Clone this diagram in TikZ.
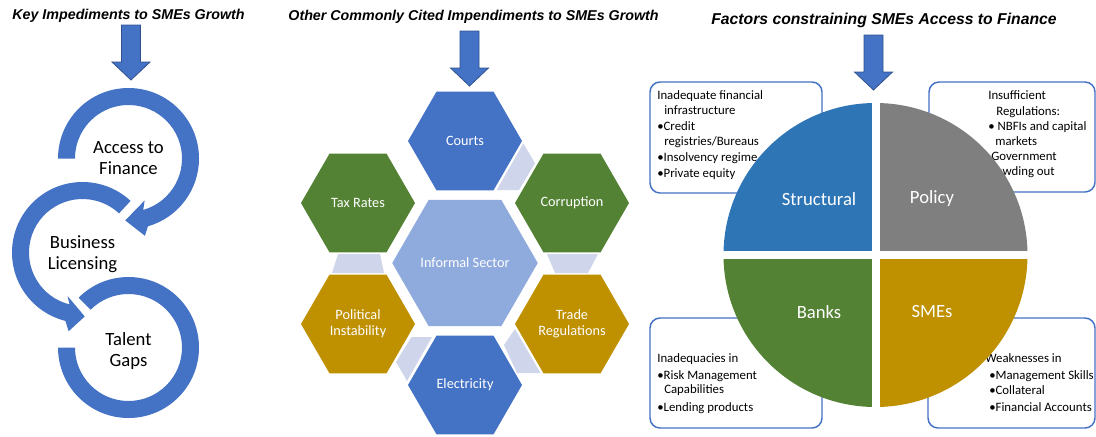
\documentclass[tikz,border=0pt]{standalone}
\usepackage{fontspec}
\setmainfont{Carlito}
\newfontfamily\titlefont{Liberation Sans}
\usetikzlibrary{shapes.geometric,calc}
\definecolor{oblue}{HTML}{4472C4}
\definecolor{oblueD}{HTML}{2F528F}
\definecolor{ogreen}{HTML}{548235}
\definecolor{ogold}{HTML}{BF9000}
\definecolor{olight}{HTML}{8FAADC}
\definecolor{oconn}{HTML}{CFD5EA}
\definecolor{sblue}{HTML}{2E75B6}
\definecolor{ogray}{HTML}{7F7F7F}
\tikzset{
  titletxt/.style={font=\titlefont\bfseries\itshape\fontsize{10.7}{12}\selectfont, inner sep=0},
  blockarrow/.style={fill=oblue, draw=oblueD, line width=0.6pt, line join=miter},
  ringtxt/.style={font=\fontsize{14}{15.5}\selectfont, align=center, inner sep=0},
  hexbox/.style={regular polygon, regular polygon sides=6, minimum size=85.5pt, inner sep=0,
     text=white, align=center, font=\fontsize{10.7}{11.8}\selectfont},
  infobox/.style={draw=oblue, line width=1.1pt, fill=white, rounded corners=7.5pt},
  boxtxt/.style={anchor=base west, inner sep=0, font=\fontsize{9.6}{11.25}\selectfont},
  pietxt/.style={text=white, font=\fontsize{14}{16}\selectfont, inner sep=0},
}
\newcommand\blockdown[1]{%
  \filldraw[blockarrow] (#1) ++(-9.5,0) -- ++(19,0) -- ++(0,37) -- ++(9.5,0)
     -- ++(-19,18) -- ++(-19,-18) -- ++(9.5,0) -- cycle;}
\begin{document}
\begin{tikzpicture}[x=0.75pt,y=-0.75pt]
\useasboundingbox (0,0) rectangle (1096,436);

% ---------------- titles and arrows
\node[titletxt] (t1) at (128.5,16) {Key Impediments to SMEs Growth};
\node[titletxt] (t2) at (473.5,17) {Other Commonly Cited Impendiments to SMEs Growth};
\node[titletxt, font=\titlefont\bfseries\itshape\fontsize{11.8}{13}\selectfont] (t3) at (884,20) {Factors constraining SMEs Access  to Finance};
\coordinate (a1) at (131,25);
\coordinate (a2) at (469.5,31);
\coordinate (a3) at (873.5,35);
\blockdown{a1}
\blockdown{a2}
\blockdown{a3}

% ---------------- left panel: circular arrows
\coordinate (c1) at (128.5,158.5);
\coordinate (c2) at (82.5,252.5);
\coordinate (c3) at (128.5,347.5);
\fill[oblue] ($(c1)+(180:70.5)$) arc[start angle=180, end angle=434, radius=70.5]
   -- ($(c1)+(438:79)$) -- ($(c1)+(453:62)$) -- ($(c1)+(429:45)$)
   -- ($(c1)+(434:53.5)$) arc[start angle=434, end angle=180, radius=53.5] -- cycle;
\fill[oblue] ($(c2)+(-47:70.5)$) arc[start angle=-47, end angle=-256, radius=70.5]
   -- ($(c2)+(-260:80)$) -- ($(c2)+(-272:64)$) -- ($(c2)+(-251:46)$)
   -- ($(c2)+(-256:53.5)$) arc[start angle=-256, end angle=-47, radius=53.5] -- cycle;
\fill[oblue] ($(c3)+(-135:70.5)$) arc[start angle=-135, end angle=180, radius=70.5]
   -- ($(c3)+(180:53.5)$) arc[start angle=180, end angle=-135, radius=53.5] -- cycle;
\node[ringtxt] (access) at (128.5,158) {Access to\\Finance};
\node[ringtxt] (licensing) at (82.5,254) {Business\\Licensing};
\node[ringtxt] (talent) at (128.5,351) {Talent\\Gaps};

% ---------------- middle panel: hexagons
\fill[oconn] (523.3,143.3) -- (535,163.3) -- (519,190) -- (496.7,190) -- cycle;
\fill[oconn] (338,254) -- (380,254) -- (384,273) -- (332,273) -- cycle;
\fill[oconn] (547,254) -- (598,254) -- (588,273) -- (555,273) -- cycle;
\fill[oconn] (411.5,337) -- (432,337) -- (407,381) -- (396,362) -- cycle;
\fill[oconn] (515,329) -- (504,345) -- (517,373) -- (540.5,373) -- cycle;
\node[hexbox, fill=oblue] (courts) at (465,141) {Courts};
\node[hexbox, fill=ogreen] (tax) at (358,203) {Tax Rates};
\node[hexbox, fill=ogreen] (corruption) at (572,203) {Corruption};
\node[hexbox, fill=olight, minimum size=105pt] (informal) at (465,263) {Informal Sector};
\node[hexbox, fill=ogold] (political) at (358,324) {Political\\Instability};
\node[hexbox, fill=ogold] (trade) at (572,324) {Trade\\Regulations};
\node[hexbox, fill=oblue] (electricity) at (465,385) {Electricity};

% ---------------- right panel: boxes
\draw[infobox] (650,82) rectangle (822,193);
\draw[infobox] (929,82) rectangle (1095,192);
\draw[infobox] (650,318) rectangle (822,428);
\draw[infobox] (928,318) rectangle (1095,428);

\node[boxtxt] (tl1) at (657,99) {Inadequate financial};
\node[boxtxt] (tl2) at (664,114) {infrastructure};
\node[boxtxt] (tl3) at (657,130) {•Credit};
\node[boxtxt] (tl4) at (664,145) {registries/Bureaus};
\node[boxtxt] (tl5) at (657,161) {•Insolvency regime};
\node[boxtxt] (tl6) at (657,177) {•Private equity};

\node[boxtxt] (tr1) at (988,99) {Insufficient};
\node[boxtxt] (tr2) at (996,115) {Regulations:};
\node[boxtxt] (tr3) at (988,130) {• NBFIs and capital};
\node[boxtxt] (tr4) at (995,145) {markets};
\node[boxtxt] (tr5) at (991,160) {Government};
\node[boxtxt] (tr6) at (986,175) {crowding out};

\node[boxtxt] (bl1) at (657,362) {Inadequacies in};
\node[boxtxt] (bl2) at (657,379) {•Risk Management};
\node[boxtxt] (bl3) at (664,393) {Capabilities};
\node[boxtxt] (bl4) at (657,411) {•Lending products};

\node[boxtxt] (br1) at (985,362) {Weaknesses in};
\node[boxtxt] (br2) at (989,379) {•Management Skills};
\node[boxtxt] (br3) at (989,394) {•Collateral};
\node[boxtxt] (br4) at (989,411) {•Financial Accounts};

% ---------------- right panel: pie
\coordinate (pc) at (875.5,255);
\begin{scope}
  \clip (pc) circle[radius=152];
  \fill[sblue] (715,95) rectangle (871.5,251);
  \fill[ogray] (879.5,95) rectangle (1035,251);
  \fill[ogreen] (715,259) rectangle (871.5,415);
  \fill[ogold] (879.5,259) rectangle (1035,415);
\end{scope}
\node[pietxt] (structural) at (819,199) {Structural};
\node[pietxt] (policy) at (932,199) {Policy};
\node[pietxt] (banks) at (819,312) {Banks};
\node[pietxt] (smes) at (932,312) {SMEs};
\end{tikzpicture}
\end{document}
